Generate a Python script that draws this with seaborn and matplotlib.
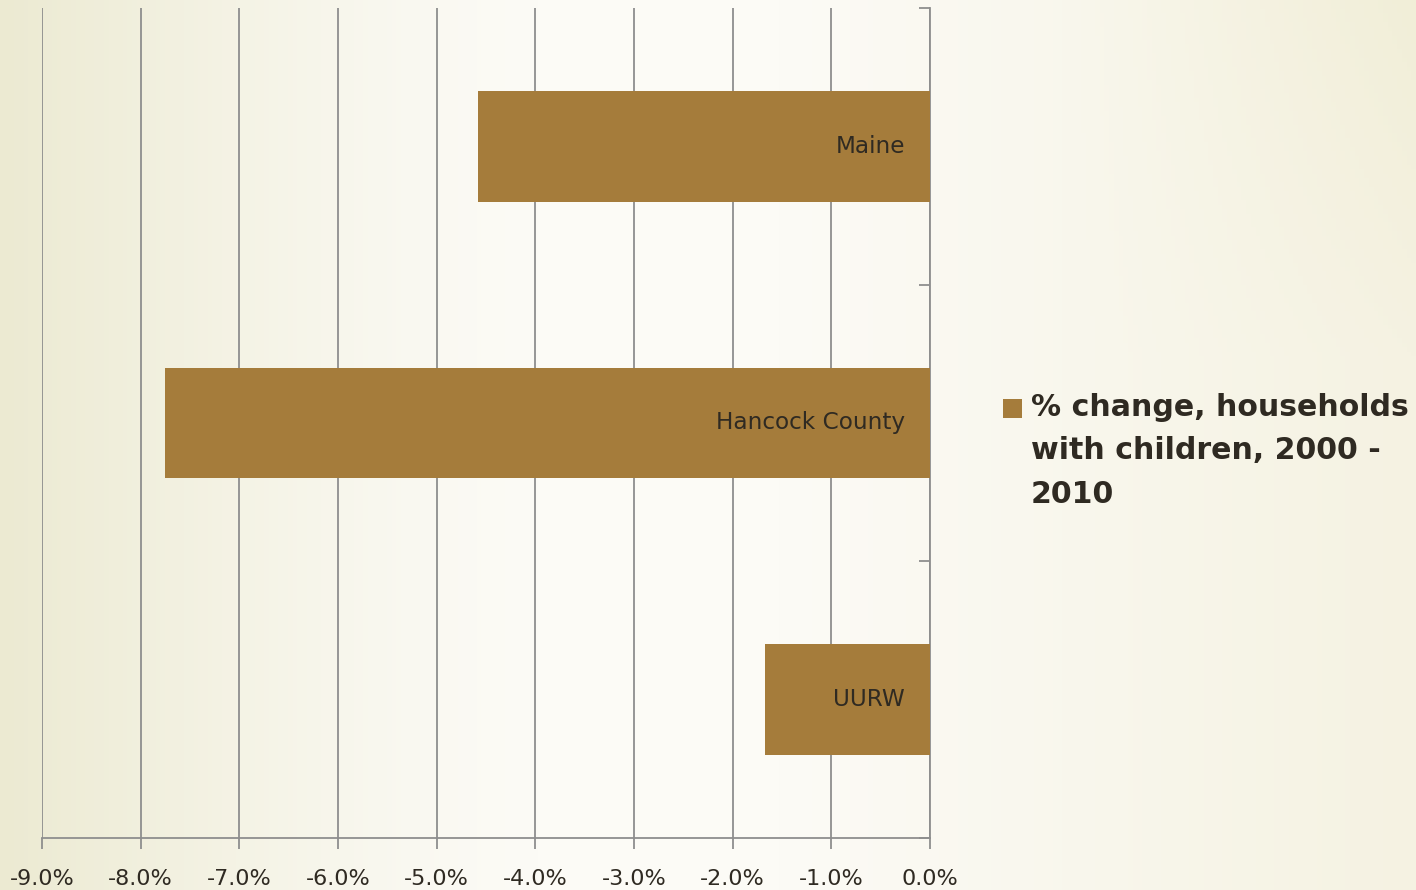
import numpy as np
import matplotlib
matplotlib.use("Agg")
import matplotlib.pyplot as plt
from matplotlib.patches import Rectangle
from matplotlib.transforms import offset_copy
import seaborn as sns
import pandas as pd

# Data: % change in households with children, 2000-2010
regions = ["Maine", "Hancock County", "UURW"]
pct_change = [-4.58, -7.75, -1.67]
tick_values = [-9, -8, -7, -6, -5, -4, -3, -2, -1, 0]
series_label = "% change, households\nwith children, 2000 -\n2010"

bar_color = "#A57C3B"
grid_color = "#8E8E8E"
text_color = "#2F2A22"

sns.set_theme(style="white")
plt.rcParams["font.family"] = ["DejaVu Sans"]

fig = plt.figure(figsize=(14.16, 8.9), dpi=100)

# Soft cream background gradient
bg = fig.add_axes([0, 0, 1, 1], zorder=-10)
xs = np.linspace(0, 1, 300)
ys = np.linspace(0, 1, 200)
X, Y = np.meshgrid(xs, ys)
left_c = np.array([236, 234, 210]) / 255
mid_c = np.array([252, 251, 246]) / 255
right_c = np.array([245, 242, 226]) / 255
w_left = np.clip(1 - X / 0.38, 0, 1) ** 1.3
w_right = np.clip((X - 0.55) / 0.45, 0, 1) ** 1.0
w_mid = 1 - w_left - w_right
img = (w_left[..., None] * left_c + w_mid[..., None] * mid_c
       + w_right[..., None] * right_c)
# faint greenish tint toward the top-right corner
tint = np.clip((X - 0.75) / 0.25, 0, 1) * np.clip((0.4 - Y) / 0.4, 0, 1)
img = img - tint[..., None] * np.array([0.015, 0.015, 0.04])
bg.imshow(np.clip(img, 0, 1), aspect="auto", extent=[0, 1, 0, 1], origin="upper")
bg.axis("off")

ax = fig.add_axes([42 / 1416, 52 / 890, (930 - 42) / 1416, (882 - 52) / 890])
ax.patch.set_alpha(0)

df = pd.DataFrame({"region": regions, "change": pct_change})
sns.barplot(data=df, y="region", x="change", order=regions, orient="h",
            color=bar_color, saturation=1, width=0.4, ax=ax, zorder=3,
            linewidth=0, edgecolor="none")

ax.set_xlim(-9, 0)
ax.set_ylim(2.5, -0.5)
ax.set_xticks(tick_values)
ax.set_xticklabels([f"{v:.1f}%" for v in tick_values], fontsize=16,
                   color=text_color)
ax.set_xlabel("")
ax.set_ylabel("")

# category boundary ticks on the zero line
ax.set_yticks([-0.5, 0.5, 1.5, 2.5])
ax.set_yticklabels([])
ax.yaxis.tick_right()
ax.tick_params(axis="y", direction="in", length=8, width=1.3, color=grid_color,
               right=True, left=False)
ax.tick_params(axis="x", direction="out", length=8, width=1.3, color=grid_color,
               bottom=True, pad=14)

ax.xaxis.grid(True, color=grid_color, linewidth=1.3, zorder=0)
ax.set_axisbelow(True)
for side in ["top", "left"]:
    ax.spines[side].set_visible(False)
for side in ["bottom", "right"]:
    ax.spines[side].set_visible(True)
    ax.spines[side].set_color(grid_color)
    ax.spines[side].set_linewidth(1.3)

# Region names inside each bar, next to the zero line
trans = offset_copy(ax.transData, fig=fig, x=-25, y=0, units="dots")
for i, name in enumerate(regions):
    ax.text(0, i, name, transform=trans, ha="right", va="center",
            fontsize=16.7, color=text_color, zorder=5)

# Legend entry
fig.add_artist(Rectangle((1003 / 1416, 1 - 418 / 890), 19 / 1416, 19 / 890,
                         transform=fig.transFigure, facecolor=bar_color,
                         edgecolor="none"))
fig.text(1031 / 1416, 1 - 393 / 890, series_label, ha="left", va="top",
         fontsize=21.6, fontweight="bold", color=text_color, linespacing=1.63)

fig.savefig("out.png", dpi=100)
